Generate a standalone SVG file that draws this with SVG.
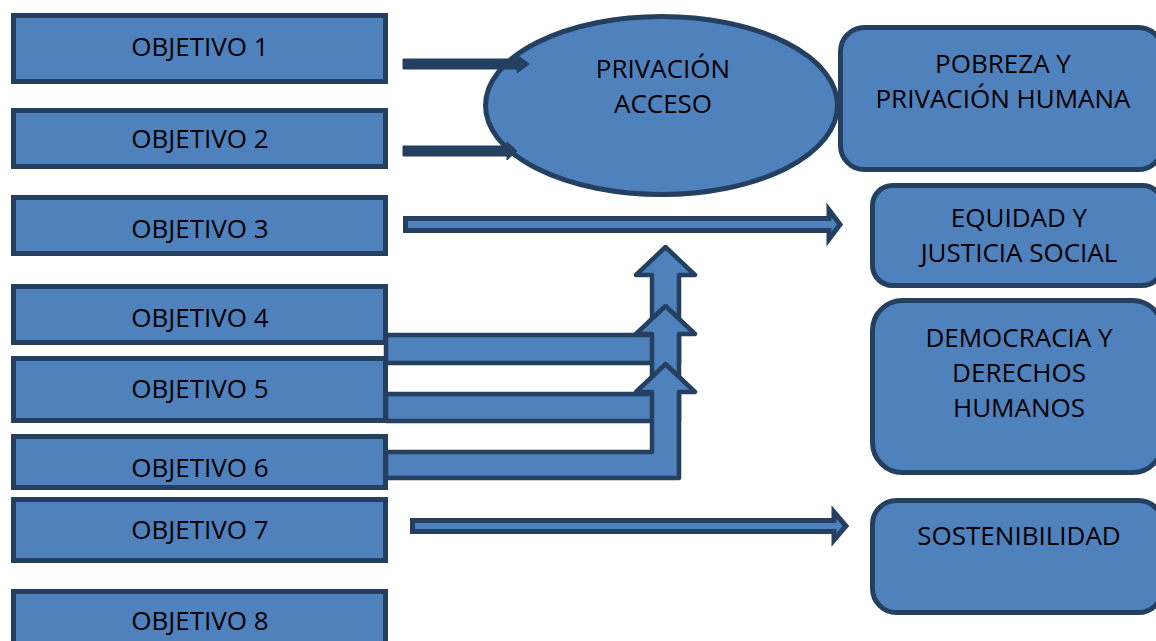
<svg xmlns="http://www.w3.org/2000/svg" width="1156" height="641" viewBox="0 0 1156 641">
<style>
.box{fill:#4F81BD;stroke:#243F60;stroke-width:5}
.t{font-family:"Open Sans","Liberation Sans",Arial,sans-serif;font-size:26px;fill:#000;text-anchor:middle}
.dark{fill:#243F60;stroke:#243F60;stroke-width:1}
.blk{fill:#4F81BD;stroke:#243F60;stroke-width:5;stroke-linejoin:miter}
.bent{fill:#4F81BD;stroke:#243F60;stroke-width:4.5;stroke-linejoin:round}
</style>
<rect width="1156" height="641" fill="#fff"/>
<g id="obj1"><rect class="box" x="13.5" y="15.5" width="372" height="66"/><text class="t" x="200" y="56">OBJETIVO 1</text></g>
<g id="obj2"><rect class="box" x="13.5" y="110.5" width="372" height="56"/><text class="t" x="200" y="148">OBJETIVO 2</text></g>
<g id="obj3"><rect class="box" x="13.5" y="197.5" width="372" height="56"/><text class="t" x="200" y="238">OBJETIVO 3</text></g>
<g id="obj4"><rect class="box" x="13.5" y="286.5" width="372" height="56"/><text class="t" x="200" y="327">OBJETIVO 4</text></g>
<g id="obj5"><rect class="box" x="13.5" y="358.5" width="372" height="62"/><text class="t" x="200" y="398">OBJETIVO 5</text></g>
<g id="obj6"><rect class="box" x="13.5" y="436.5" width="372" height="51"/><text class="t" x="200" y="477">OBJETIVO 6</text></g>
<g id="obj7"><rect class="box" x="13.5" y="499.5" width="372" height="61"/><text class="t" x="200" y="539">OBJETIVO 7</text></g>
<g id="obj8"><rect class="box" x="13.5" y="591.5" width="372" height="60"/><text class="t" x="200" y="630">OBJETIVO 8</text></g>
<g id="privacion"><ellipse class="box" cx="661.5" cy="105.5" rx="176" ry="89"/><text class="t" x="663" y="78">PRIVACIÓN</text><text class="t" x="663" y="113">ACCESO</text></g>
<g id="pobreza"><rect class="box" x="840.5" y="27.5" width="322" height="142" rx="24"/><text class="t" x="1003" y="73">POBREZA Y</text><text class="t" x="1003" y="108">PRIVACIÓN HUMANA</text></g>
<g id="equidad"><rect class="box" x="872.5" y="185.5" width="290" height="100" rx="20"/><text class="t" x="1019" y="227">EQUIDAD Y</text><text class="t" x="1019" y="262">JUSTICIA SOCIAL</text></g>
<g id="democracia"><rect class="box" x="872.5" y="300.5" width="290" height="172" rx="30"/><text class="t" x="1019" y="347">DEMOCRACIA Y</text><text class="t" x="1019" y="382">DERECHOS</text><text class="t" x="1019" y="417">HUMANOS</text></g>
<g id="sostenibilidad"><rect class="box" x="872.5" y="500.5" width="290" height="112" rx="24"/><text class="t" x="1019" y="545">SOSTENIBILIDAD</text></g>
<g id="connectors">
<path class="dark" d="M403,59 L517,59 L517,55 L529,64 L517,73 L517,69 L403,69 Z"/>
<path class="dark" d="M403,146 L507,146 L507,142 L517,151 L507,160 L507,156 L403,156 Z"/>
<path class="blk" d="M405.5,218.5 L829,218.5 L829,210 L840,224.5 L829,239 L829,230.5 L405.5,230.5 Z"/>
<path class="blk" d="M412.5,520.5 L834,520.5 L834,512 L846,526 L834,540 L834,531.5 L412.5,531.5 Z"/>
<path class="bent" d="M386,335 L652,335 L652,275 L636,275 L665.5,247 L695,275 L679,275 L679,363 L386,363 Z"/>
<path class="bent" d="M386,394 L652,394 L652,334 L636,334 L665.5,306 L695,334 L679,334 L679,421 L386,421 Z"/>
<path class="bent" d="M386,452 L652,452 L652,392 L636,392 L665.5,364 L695,392 L679,392 L679,478 L386,478 Z"/>
</g>
</svg>
